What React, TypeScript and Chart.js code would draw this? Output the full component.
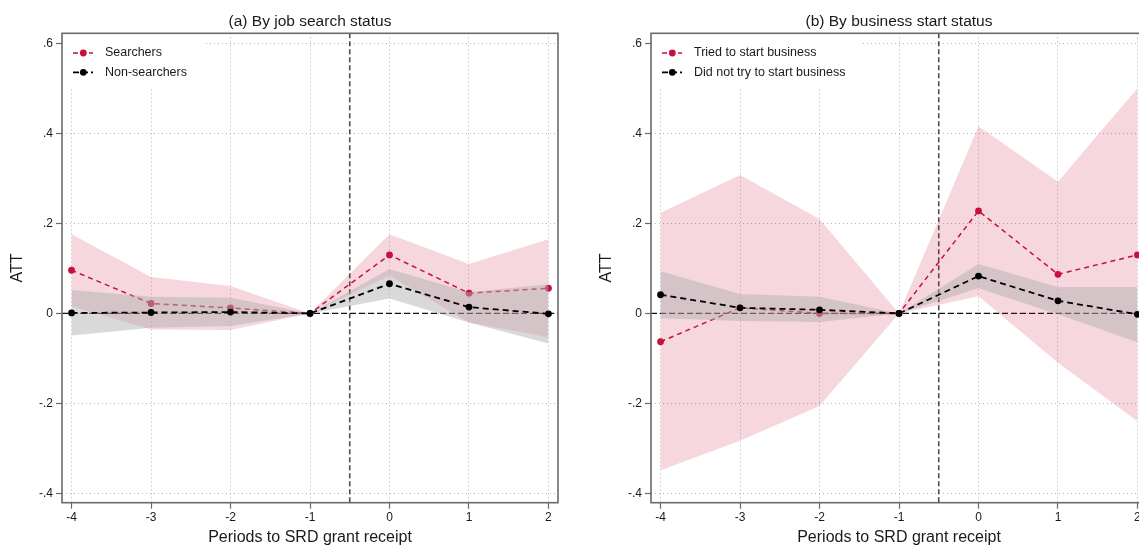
import { useEffect, useRef } from 'react';
import { Chart, registerables } from 'chart.js';

Chart.register(...registerables);

const FONT = "'Liberation Sans', Arial, Helvetica, sans-serif";
Chart.defaults.font.family = FONT;

// Event-time axis and tick labels
const periods = [-4, -3, -2, -1, 0, 1, 2];
const xTickLabels = ['-4', '-3', '-2', '-1', '0', '1', '2'];
const yTickValues = [-0.4, -0.2, 0, 0.2, 0.4, 0.6];
const yTickLabels = ['-.4', '-.2', '0', '.2', '.4', '.6'];

// (a) By job search status
const searchersAtt = [0.096, 0.022, 0.012, 0, 0.130, 0.045, 0.056];
const searchersLo = [0.016, -0.036, -0.037, 0, 0.084, -0.020, -0.053];
const searchersHi = [0.176, 0.081, 0.061, 0, 0.176, 0.110, 0.165];
const nonSearchersAtt = [0.001, 0.002, 0.003, 0, 0.066, 0.014, -0.001];
const nonSearchersLo = [-0.049, -0.032, -0.028, 0, 0.033, -0.020, -0.067];
const nonSearchersHi = [0.052, 0.037, 0.035, 0, 0.099, 0.047, 0.065];

// (b) By business start status
const triedAtt = [-0.063, 0.0125, 0.0, 0, 0.228, 0.087, 0.130];
const triedLo = [-0.349, -0.283, -0.206, 0, 0.038, -0.110, -0.240];
const triedHi = [0.224, 0.308, 0.210, 0, 0.416, 0.293, 0.501];
const notTriedAtt = [0.0415, 0.0125, 0.008, 0, 0.083, 0.028, -0.002];
const notTriedLo = [-0.011, -0.017, -0.019, 0, 0.056, -0.002, -0.064];
const notTriedHi = [0.094, 0.043, 0.037, 0, 0.110, 0.059, 0.059];

const RED = 'rgb(200, 16, 60)';
const RED_BAND = 'rgba(200, 16, 60, 0.17)';
const BLACK = '#000000';
const GRAY_BAND = 'rgba(175, 175, 175, 0.48)';
const FRAME = '#6a6a6a';
const TEXT = '#1a1a1a';

const X_MIN = -4.12;
const X_MAX = 2.12;
const Y_MIN = -0.421;
const Y_MAX = 0.623;

const CANVAS_W = 570;
const CANVAS_H = 546;

type Series = { name: string; att: number[]; lo: number[]; hi: number[] };

const pts = (vals: number[]) => periods.map((x, i) => ({ x, y: vals[i] }));

// Reference lines: zero effect and treatment onset at -0.5
const refLinesPlugin = {
  id: 'refLines',
  beforeDatasetsDraw(chart: any) {
    const { ctx, chartArea, scales } = chart;
    const y0 = scales.y.getPixelForValue(0);
    const xv = scales.x.getPixelForValue(-0.5);
    ctx.save();
    ctx.beginPath();
    ctx.rect(chartArea.left, chartArea.top, chartArea.right - chartArea.left, chartArea.bottom - chartArea.top);
    ctx.clip();
    ctx.strokeStyle = '#111';
    ctx.lineWidth = 1.2;
    ctx.setLineDash([6, 3]);
    ctx.beginPath();
    ctx.moveTo(chartArea.left, y0);
    ctx.lineTo(chartArea.right, y0);
    ctx.stroke();
    ctx.strokeStyle = '#4d4d4d';
    ctx.lineWidth = 1.6;
    ctx.setLineDash([5, 3]);
    ctx.beginPath();
    ctx.moveTo(xv, chartArea.top);
    ctx.lineTo(xv, chartArea.bottom);
    ctx.stroke();
    ctx.restore();
  },
};

// Legend drawn inside the plot region, top-left, on a white box
const makeLegendPlugin = (items: { label: string; color: string; dash: number[]; width: number }[]) => ({
  id: 'insetLegend',
  beforeDatasetsDraw(chart: any) {
    const { ctx, chartArea } = chart;
    const left = chartArea.left;
    const top = chartArea.top;
    ctx.save();
    ctx.font = `12.5px ${FONT}`;
    const textW = Math.max(...items.map((it) => ctx.measureText(it.label).width));
    const boxW = 43 + textW + 15;
    ctx.fillStyle = '#ffffff';
    ctx.fillRect(left + 1, top + 1, boxW, 54);
    items.forEach((it, i) => {
      const cy = top + 19.7 + i * 19.3;
      ctx.strokeStyle = it.color;
      ctx.lineWidth = it.width;
      ctx.setLineDash(it.dash);
      ctx.beginPath();
      ctx.moveTo(left + 11, cy);
      ctx.lineTo(left + 31, cy);
      ctx.stroke();
      ctx.setLineDash([]);
      ctx.fillStyle = it.color;
      ctx.beginPath();
      ctx.arc(left + 21.3, cy, 3.4, 0, Math.PI * 2);
      ctx.fill();
      ctx.fillStyle = TEXT;
      ctx.textAlign = 'left';
      ctx.textBaseline = 'middle';
      ctx.fillText(it.label, left + 43, cy);
    });
    ctx.restore();
  },
});

// Full box around the plot region
const framePlugin = {
  id: 'plotFrame',
  afterDatasetsDraw(chart: any) {
    const { ctx, chartArea } = chart;
    ctx.save();
    ctx.strokeStyle = FRAME;
    ctx.lineWidth = 1.6;
    ctx.setLineDash([]);
    ctx.strokeRect(chartArea.left, chartArea.top, chartArea.right - chartArea.left, chartArea.bottom - chartArea.top);
    ctx.restore();
  },
};

function buildConfig(title: string, red: Series, black: Series): any {
  const bandLine = { borderColor: 'rgba(0,0,0,0)', borderWidth: 0, pointRadius: 0, tension: 0 };
  return {
    type: 'line',
    data: {
      datasets: [
        { label: red.name + ' lo', data: pts(red.lo), ...bandLine, fill: false, order: 4 },
        { label: red.name + ' hi', data: pts(red.hi), ...bandLine, fill: '-1', backgroundColor: RED_BAND, order: 4 },
        {
          label: red.name,
          data: pts(red.att),
          borderColor: RED,
          borderWidth: 1.5,
          borderDash: [5, 4],
          pointRadius: 3.4,
          pointBackgroundColor: RED,
          pointBorderColor: RED,
          pointBorderWidth: 0,
          tension: 0,
          fill: false,
          order: 3,
        },
        { label: black.name + ' lo', data: pts(black.lo), ...bandLine, fill: false, order: 2 },
        { label: black.name + ' hi', data: pts(black.hi), ...bandLine, fill: '-1', backgroundColor: GRAY_BAND, order: 2 },
        {
          label: black.name,
          data: pts(black.att),
          borderColor: BLACK,
          borderWidth: 1.8,
          borderDash: [6, 4],
          pointRadius: 3.4,
          pointBackgroundColor: BLACK,
          pointBorderColor: BLACK,
          pointBorderWidth: 0,
          tension: 0,
          fill: false,
          order: 1,
        },
      ],
    },
    options: {
      responsive: false,
      animation: false,
      layout: { padding: { left: 0, right: 12, top: 0, bottom: 0 } },
      plugins: {
        legend: { display: false },
        tooltip: { enabled: false },
        title: {
          display: true,
          text: title,
          fullSize: false,
          color: TEXT,
          font: { size: 15.5, weight: 'normal', family: FONT },
          padding: { top: 12.7, bottom: 2 },
        },
      },
      scales: {
        x: {
          type: 'linear',
          min: X_MIN,
          max: X_MAX,
          afterBuildTicks: (scale: any) => {
            scale.ticks = periods.map((v) => ({ value: v }));
          },
          afterFit: (scale: any) => {
            scale.height = CANVAS_H - 502.7;
          },
          ticks: {
            color: TEXT,
            font: { size: 12 },
            padding: 2,
            maxRotation: 0,
            autoSkip: false,
            callback: (_v: any, i: number) => xTickLabels[i],
          },
          grid: {
            color: 'rgba(120,120,120,0.55)',
            lineWidth: 1,
            tickColor: FRAME,
            tickLength: 6,
            tickWidth: 1.2,
          },
          border: { display: false, dash: [1, 3] },
          title: {
            display: true,
            text: 'Periods to SRD grant receipt',
            color: TEXT,
            font: { size: 16, lineHeight: 1 },
            padding: { top: 0, bottom: 0 },
          },
        },
        y: {
          type: 'linear',
          min: Y_MIN,
          max: Y_MAX,
          afterBuildTicks: (scale: any) => {
            scale.ticks = yTickValues.map((v) => ({ value: v }));
          },
          afterFit: (scale: any) => {
            scale.width = 62;
          },
          ticks: {
            color: TEXT,
            font: { size: 12 },
            padding: 3,
            autoSkip: false,
            callback: (_v: any, i: number) => yTickLabels[i],
          },
          grid: {
            color: 'rgba(120,120,120,0.55)',
            lineWidth: 1,
            tickColor: FRAME,
            tickLength: 6,
            tickWidth: 1.2,
          },
          border: { display: false, dash: [1, 3] },
          title: {
            display: true,
            text: 'ATT',
            color: TEXT,
            font: { size: 16, lineHeight: 1.2 },
            padding: { top: 8, bottom: 0 },
          },
        },
      },
    },
    plugins: [
      refLinesPlugin,
      makeLegendPlugin([
        { label: red.name, color: RED, dash: [5, 3], width: 1.5 },
        { label: black.name, color: BLACK, dash: [6, 3], width: 1.8 },
      ]),
      framePlugin,
    ],
  };
}

function Panel({ left, title, red, black }: { left: number; title: string; red: Series; black: Series }) {
  const ref = useRef<HTMLCanvasElement>(null);
  useEffect(() => {
    if (!ref.current) return;
    const chart = new Chart(ref.current, buildConfig(title, red, black));
    return () => chart.destroy();
  }, [title, red, black]);
  return (
    <canvas
      ref={ref}
      width={CANVAS_W}
      height={CANVAS_H}
      style={{ position: 'absolute', left, top: 0, width: CANVAS_W, height: CANVAS_H, display: 'block' }}
    />
  );
}

const searchers: Series = { name: 'Searchers', att: searchersAtt, lo: searchersLo, hi: searchersHi };
const nonSearchers: Series = { name: 'Non-searchers', att: nonSearchersAtt, lo: nonSearchersLo, hi: nonSearchersHi };
const tried: Series = { name: 'Tried to start business', att: triedAtt, lo: triedLo, hi: triedHi };
const notTried: Series = { name: 'Did not try to start business', att: notTriedAtt, lo: notTriedLo, hi: notTriedHi };

export default function App() {
  return (
    <div
      style={{
        position: 'fixed',
        left: 0,
        top: 0,
        width: 1139,
        height: 546,
        overflow: 'hidden',
        background: '#ffffff',
      }}
    >
      <Panel left={0} title="(a) By job search status" red={searchers} black={nonSearchers} />
      <Panel left={589} title="(b) By business start status" red={tried} black={notTried} />
    </div>
  );
}
